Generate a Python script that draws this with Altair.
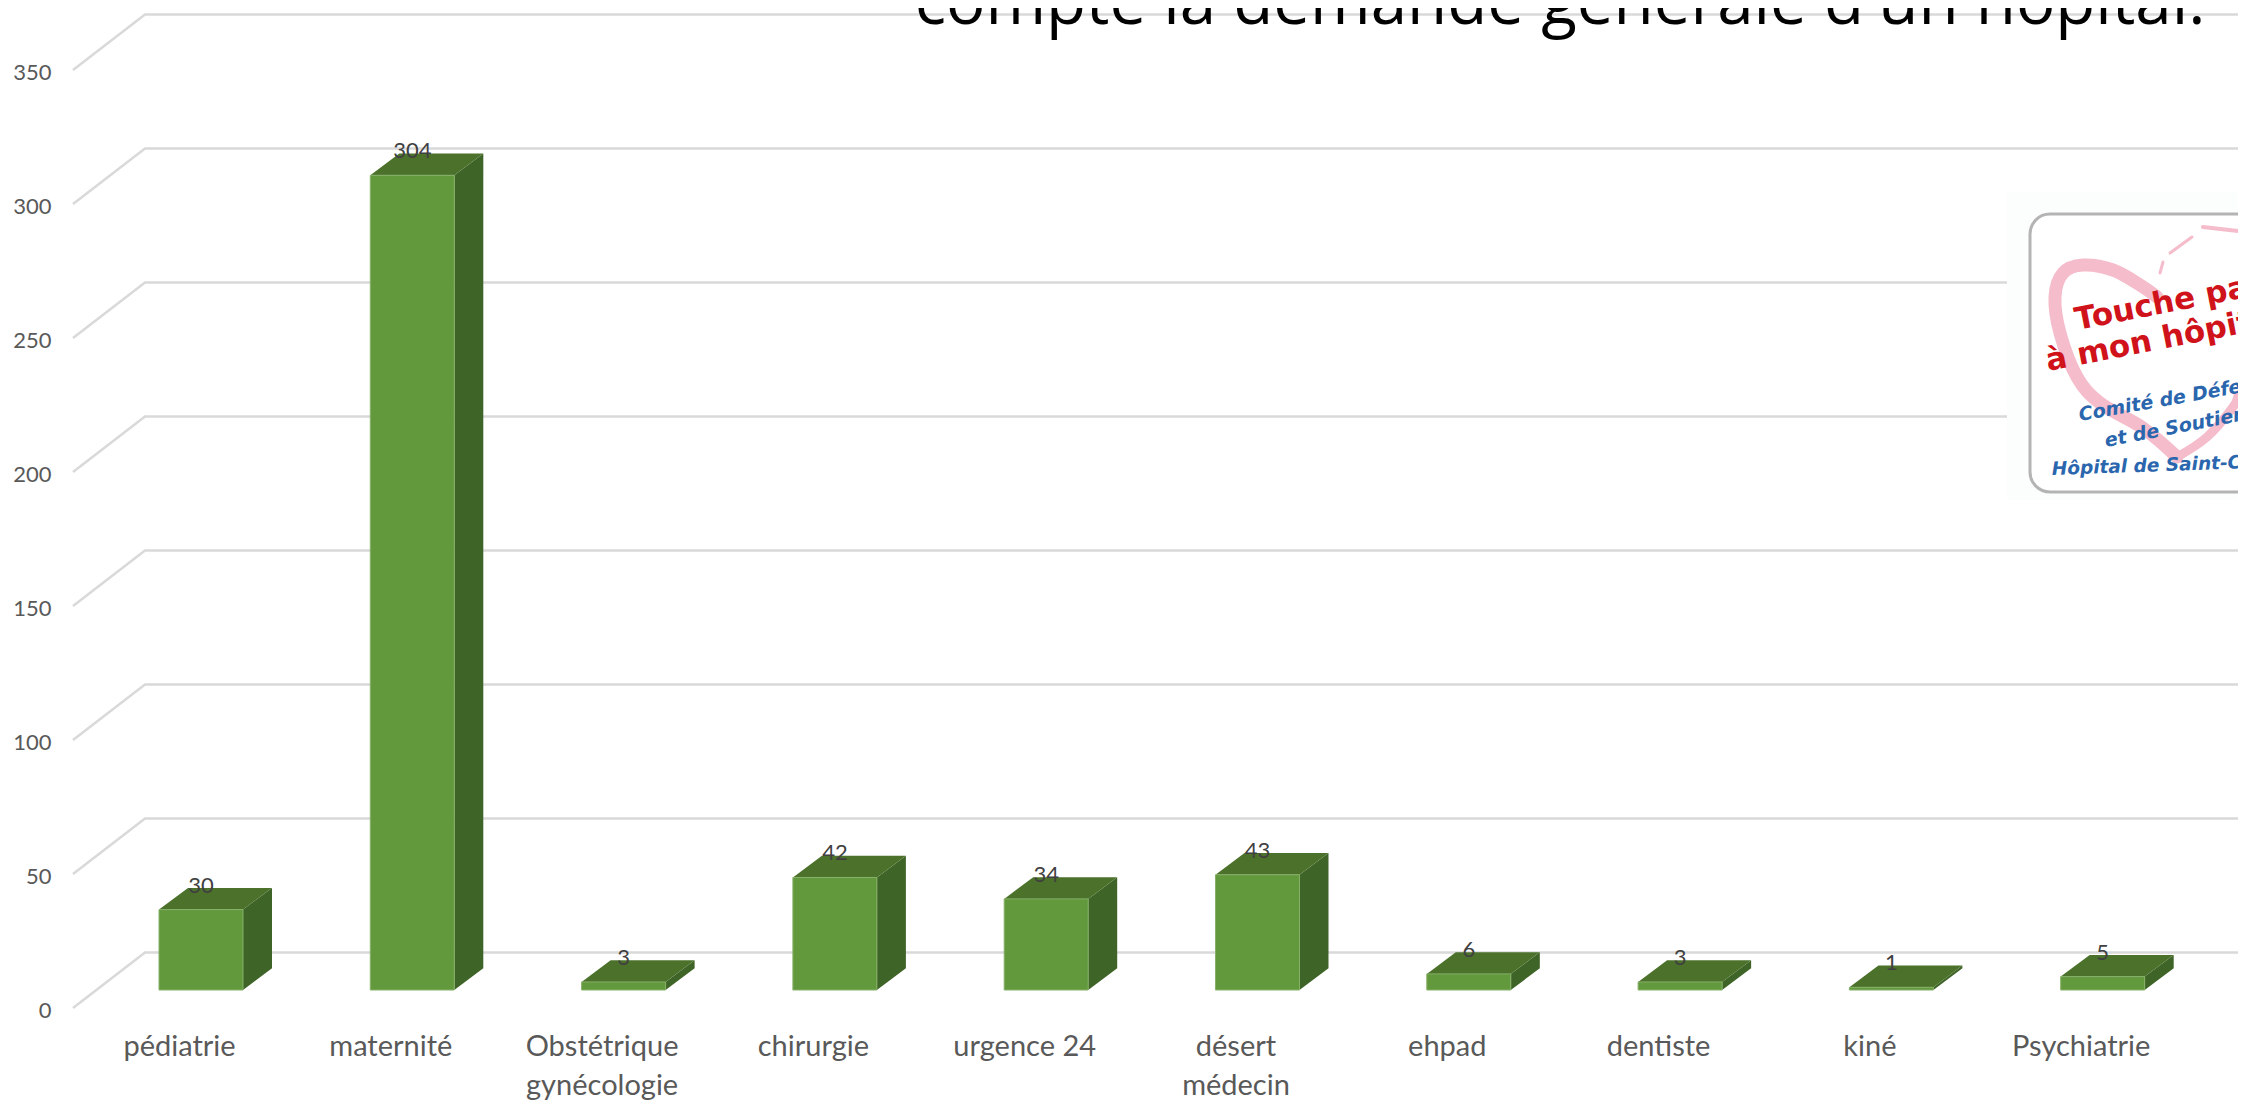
import altair as alt
import pandas as pd

categories = ["pédiatrie", "maternité", "Obstétrique gynécologie", "chirurgie", "urgence 24",
              "désert médecin", "ehpad", "dentiste", "kiné", "Psychiatrie"]
values = [30, 304, 3, 42, 34, 43, 6, 3, 1, 5]
y_ticks = [0, 50, 100, 150, 200, 250, 300, 350]
title_text = "compte la demande générale d'un hôpital."

# scale calibration (page pixels)
STEP, X0 = 211.3, 201.0
PX, Y0 = 2.68, 1008.0
PAGE_L, PAGE_R, PAGE_T, PAGE_B = 54, 2238, 8, 1024
def dx(p): return (p - X0) / STEP
def dy(p): return (Y0 - p) / PX

# 3-D projection constants in data units
FLOOR = dy(990)
HALF = 42 / STEP
B_DX, B_DY = 29 / STEP, 21.7 / PX
G_X0, G_X1 = dx(73), dx(145)
G_DY = 55.5 / PX

front, side, top, labels = [], [], [], []
for i, (c, v) in enumerate(zip(categories, values)):
    l, r, b, t = i - HALF, i + HALF, FLOOR, v + FLOOR
    front.append(dict(x=l, x2=r, y=b, y2=t))
    side += [dict(b=i, x=r, y=b, y2=t), dict(b=i, x=r + B_DX, y=b + B_DY, y2=t + B_DY)]
    top += [dict(b=i, x=l, y=t, y2=t), dict(b=i, x=l + B_DX, y=t, y2=t + B_DY),
            dict(b=i, x=r, y=t, y2=t + B_DY), dict(b=i, x=r + B_DX, y=t + B_DY, y2=t + B_DY)]
    labels.append(dict(x=i, y=t, t=str(v)))

grid = []
for tk in y_ticks:
    grid += [dict(k=tk, x=G_X0, y=tk), dict(k=tk, x=G_X1, y=tk + G_DY), dict(k=tk, x=dx(PAGE_R), y=tk + G_DY)]

names_expr = "[" + ",".join(
    "'urgence 24'" if c == "urgence 24" else "[" + ",".join("'%s'" % w for w in c.split(" ")) + "]"
    for c in categories) + "][datum.value]"

x_scale = alt.Scale(domain=[dx(PAGE_L), dx(PAGE_R)], nice=False, zero=False)
y_scale = alt.Scale(domain=[dy(PAGE_B), dy(PAGE_T)], nice=False, zero=False)
x_axis = alt.Axis(values=list(range(10)), labelExpr=names_expr, domain=False, ticks=False, grid=False,
                  labelFont="Lato", labelFontSize=29, labelColor="#595959", labelPadding=8,
                  labelOffset=-22, labelLineHeight=39, labelAngle=0, title=None, labelOverlap=False, labelFlush=False)
y_axis = alt.Axis(values=y_ticks, domain=False, ticks=False, grid=False, labelFont="Lato", labelFontSize=22,
                  labelColor="#595959", labelPadding=3, labelOffset=2, title=None, labelOverlap=False, labelFlush=False)
X = alt.X("x:Q", scale=x_scale, axis=x_axis)
Y = alt.Y("y:Q", scale=y_scale, axis=y_axis)

grid_layer = alt.Chart(pd.DataFrame(grid)).mark_line(color="#d9d9d9", strokeWidth=2.5).encode(
    x=X, y=Y, detail="k:N")
side_layer = alt.Chart(pd.DataFrame(side)).mark_area(color="#3f6427").encode(
    x=X, y=Y, y2="y2:Q", detail="b:N")
top_layer = alt.Chart(pd.DataFrame(top)).mark_area(color="#4b712b").encode(
    x=X, y=Y, y2="y2:Q", detail="b:N")
front_layer = alt.Chart(pd.DataFrame(front)).mark_rect(color="#63993d", stroke="#86b068", strokeWidth=1).encode(
    x=X, x2="x2:Q", y=Y, y2="y2:Q")
label_layer = alt.Chart(pd.DataFrame(labels)).mark_text(
    font="Lato", fontSize=22, color="#404040", baseline="middle", dy=-24).encode(x=X, y=Y, text="t:N")

title_layer = alt.Chart(pd.DataFrame([dict(x=dx(1560), y=dy(24), t=title_text)])).mark_text(
    font="Open Sans", fontSize=65.5, color="#000000", baseline="alphabetic", align="center").encode(x=X, y=Y, text="t:N")

# logo, redrawn
patch = alt.Chart(pd.DataFrame([dict(x=dx(2007), x2=dx(PAGE_R), y=dy(192), y2=dy(500))])).mark_rect(color="#fcfefe").encode(
    x=X, x2="x2:Q", y=Y, y2="y2:Q")
frame = alt.Chart(pd.DataFrame([dict(x=dx(2030), x2=dx(2290), y=dy(214), y2=dy(492))])).mark_rect(
    fill="#ffffff", stroke="#b4b4b4", strokeWidth=3, cornerRadius=20, clip=True).encode(x=X, x2="x2:Q", y=Y, y2="y2:Q")

heart_paths = [
    (13, [2177, 2143, 2100, 2077, 2060, 2055, 2063, 2083, 2113, 2140, 2157],
         [457, 428, 403, 377, 333, 297, 273, 265, 270, 285, 297]),
    (3, [2160, 2163], [273, 262]),
    (3, [2170, 2192], [253, 237]),
    (4, [2203, 2238], [227, 231]),
    (9, [2177, 2207, 2233, 2238], [457, 437, 407, 395]),
]
heart = []
for k, (w, xs, ys) in enumerate(heart_paths):
    for o, (a, b) in enumerate(zip(xs, ys)):
        heart.append(dict(k=k, o=o, w=w, x=dx(a), y=dy(b)))
heart_layer = alt.Chart(pd.DataFrame(heart)).mark_line(color="#f5bccb", interpolate="cardinal", strokeCap="round").encode(
    x=X, y=Y, detail="k:N", order="o:Q", strokeWidth=alt.StrokeWidth("w:Q", scale=None))

def logo_text(txt, x, y, angle, size, color, style):
    return alt.Chart(pd.DataFrame([dict(x=dx(x), y=dy(y), t=txt)])).mark_text(
        font="DejaVu Sans", fontWeight="bold", fontStyle=style, fontSize=size, color=color, angle=angle,
        align="left", baseline="alphabetic").encode(x=X, y=Y, text="t:N")

logo = [
    logo_text("Touche pas", 2077, 330, 349, 31, "#d0121b", "normal"),
    logo_text("à mon hôpital", 2048, 371, 349, 31, "#d0121b", "normal"),
    logo_text("Comité de Défense", 2080, 421, 350, 19, "#2a66ad", "italic"),
    logo_text("et de Soutien", 2106, 447, 349, 19, "#2a66ad", "italic"),
    logo_text("Hôpital de Saint-Claude", 2052, 475, 358, 18.5, "#2a66ad", "italic"),
]

chart = alt.layer(grid_layer, side_layer, top_layer, front_layer, label_layer, patch, frame, heart_layer,
                  *logo, title_layer).properties(
    width=PAGE_R - PAGE_L, height=PAGE_B - PAGE_T,
    padding={"left": PAGE_L - 8, "top": 0, "right": 0, "bottom": 1097 - (PAGE_B - PAGE_T)},
    autosize=alt.AutoSizeParams(type="none"),
).configure_view(stroke=None)

chart.save("out.html", embed_options={"renderer": "svg", "actions": False})
